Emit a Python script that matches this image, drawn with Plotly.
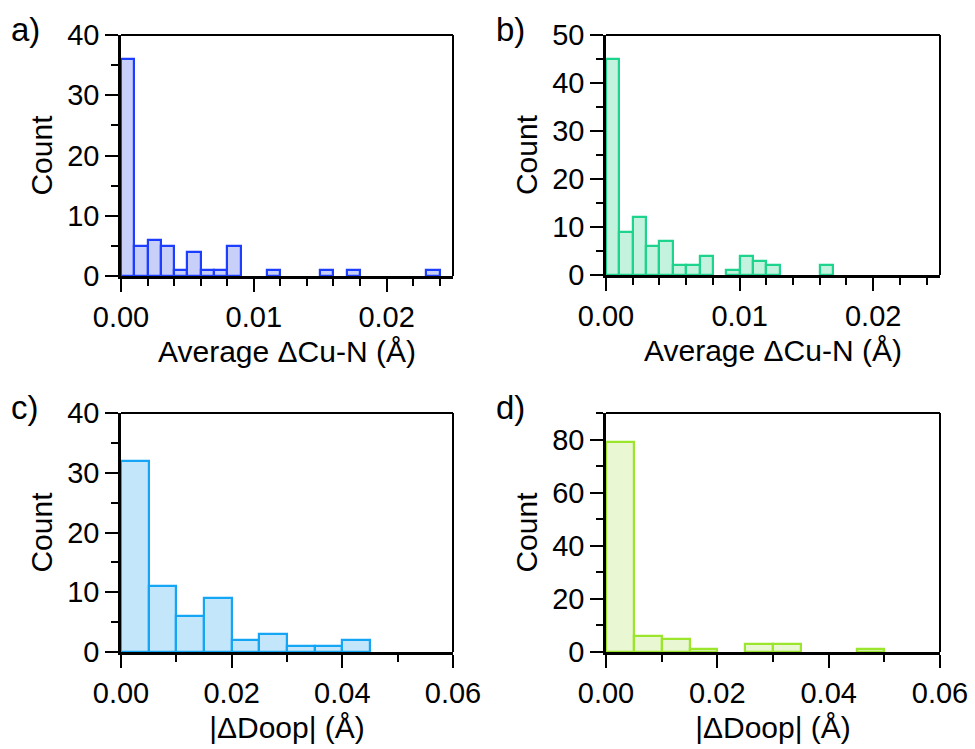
import plotly.graph_objects as go

# ---- data ----
# panel a: Average ΔCu-N (Å), bin width 0.001
a_bin_left = [0.000, 0.001, 0.002, 0.003, 0.004, 0.005, 0.006, 0.007, 0.008,
              0.011, 0.015, 0.017, 0.023]
a_counts = [36, 5, 6, 5, 1, 4, 1, 1, 5, 1, 1, 1, 1]
a_width = 0.001

# panel b: Average ΔCu-N (Å), bin width 0.001
b_bin_left = [0.000, 0.001, 0.002, 0.003, 0.004, 0.005, 0.006, 0.007,
              0.009, 0.010, 0.011, 0.012, 0.016]
b_counts = [45, 9, 12, 6, 7, 2, 2, 4, 1, 4, 3, 2, 2]
b_width = 0.001

# panel c: |ΔDoop| (Å), bin width 0.005
c_bin_left = [0.000, 0.005, 0.010, 0.015, 0.020, 0.025, 0.030, 0.035, 0.040]
c_counts = [32, 11, 6, 9, 2, 3, 1, 1, 2]
c_width = 0.005

# panel d: |ΔDoop| (Å), bin width 0.005
d_bin_left = [0.000, 0.005, 0.010, 0.015, 0.025, 0.030, 0.045]
d_counts = [79, 6, 5, 1, 3, 3, 1]
d_width = 0.005

panel_labels = ["a)", "b)", "c)", "d)"]
x_titles = ["Average ΔCu-N (Å)", "Average ΔCu-N (Å)", "|ΔDoop| (Å)", "|ΔDoop| (Å)"]
y_title = "Count"

line_colors = ["rgb(30,62,255)", "rgb(30,212,140)", "rgb(20,165,245)", "rgb(155,230,45)"]
fill_colors = ["rgb(200,208,250)", "rgb(195,243,223)", "rgb(195,230,250)", "rgb(233,248,210)"]

FONT = "Arial, Liberation Sans, sans-serif"
W, H = 975, 749

# plot-area pixel boxes (left, right, top, bottom)
boxes = [
    (121, 453, 35, 276),
    (606, 940, 35, 275),
    (121, 453, 413, 652),
    (606, 940, 413, 652),
]

panels = [
    dict(left=a_bin_left, counts=a_counts, width=a_width, xr=[0, 0.025], xd=0.01, xm=0.002,
         yr=[0, 40], yd=10, ym=5),
    dict(left=b_bin_left, counts=b_counts, width=b_width, xr=[0, 0.025], xd=0.01, xm=0.002,
         yr=[0, 50], yd=10, ym=5),
    dict(left=c_bin_left, counts=c_counts, width=c_width, xr=[0, 0.06], xd=0.02, xm=0.01,
         yr=[0, 40], yd=10, ym=5),
    dict(left=d_bin_left, counts=d_counts, width=d_width, xr=[0, 0.06], xd=0.02, xm=0.01,
         yr=[0, 90], yd=20, ym=10),
]

fig = go.Figure()
layout = {}
shapes = []
annotations = []

for i, (p, box) in enumerate(zip(panels, boxes)):
    n = "" if i == 0 else str(i + 1)
    xa, ya = "x" + n, "y" + n
    l, r, t, b = box
    fig.add_trace(go.Bar(
        x=p["left"], y=p["counts"], width=p["width"], offset=0,
        marker=dict(color=fill_colors[i], line=dict(color=line_colors[i], width=2.2)),
        xaxis=xa, yaxis=ya, showlegend=False,
    ))
    tickfont = dict(family=FONT, size=29, color="black")
    layout["xaxis" + n] = dict(
        domain=[l / W, r / W], anchor=ya, range=p["xr"], dtick=p["xd"], tick0=0,
        tickformat=".2f", ticks="outside", ticklen=13, tickwidth=2, tickcolor="black",
        minor=dict(dtick=p["xm"], tick0=0, ticks="outside", ticklen=7, tickwidth=2,
                   tickcolor="black"),
        showline=True, linecolor="black", linewidth=2.5, showgrid=False, zeroline=False,
        tickfont=tickfont, automargin=False,
        title=dict(text=x_titles[i], font=dict(family=FONT, size=30, color="black"), standoff=10),
    )
    layout["yaxis" + n] = dict(
        domain=[1 - b / H, 1 - t / H], anchor=xa, range=p["yr"], dtick=p["yd"], tick0=0,
        ticks="outside", ticklen=13, tickwidth=2, tickcolor="black",
        minor=dict(dtick=p["ym"], tick0=0, ticks="outside", ticklen=7, tickwidth=2,
                   tickcolor="black"),
        showline=True, linecolor="black", linewidth=2.5, showgrid=False, zeroline=False,
        tickfont=tickfont, automargin=False,
        title=dict(text=y_title, font=dict(family=FONT, size=30, color="black"), standoff=6),
    )
    dx = xa + " domain"
    dy = ya + " domain"
    shapes.append(dict(type="line", xref=dx, yref=dy, x0=0, x1=1, y0=1, y1=1,
                       line=dict(color="black", width=2)))
    shapes.append(dict(type="line", xref=dx, yref=dy, x0=1, x1=1, y0=0, y1=1,
                       line=dict(color="black", width=2)))
    annotations.append(dict(text=panel_labels[i], xref="paper", yref="paper",
                            x=(l - 112) / W, y=1 - (t - 26) / H, xanchor="left", yanchor="top",
                            showarrow=False, font=dict(family=FONT, size=33, color="black")))

fig.update_layout(
    width=W, height=H, margin=dict(l=0, r=0, t=0, b=0),
    paper_bgcolor="white", plot_bgcolor="white",
    shapes=shapes, annotations=annotations, bargap=0,
    **layout,
)

fig.write_html("out.html")
